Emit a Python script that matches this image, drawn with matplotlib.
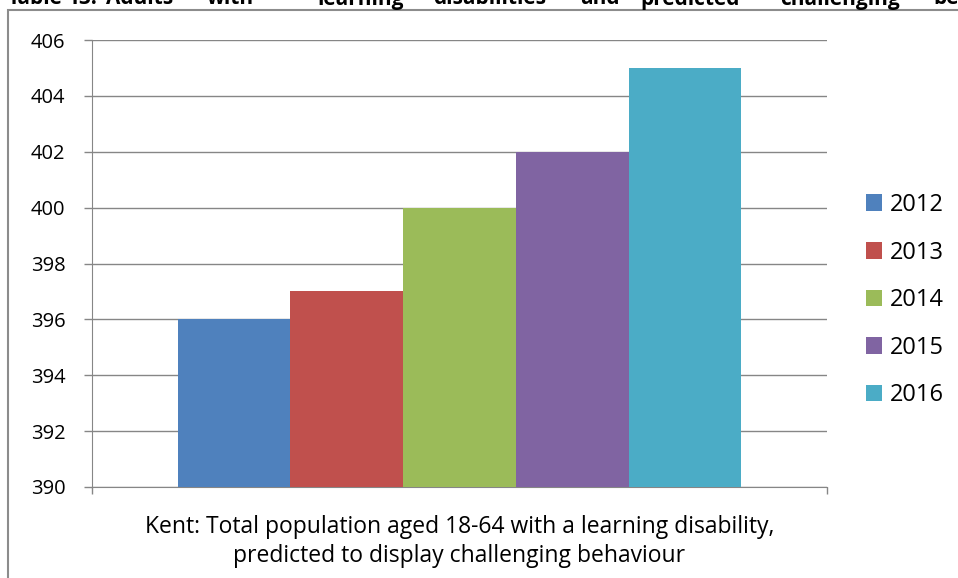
import matplotlib
matplotlib.use("Agg")
import matplotlib.pyplot as plt
from matplotlib.patches import Rectangle

years = ["2012", "2013", "2014", "2015", "2016"]
values = [396, 397, 400, 402, 405]
colors = ["#4F81BD", "#C0504D", "#9BBB59", "#8064A2", "#4BACC6"]
yticks = [390, 392, 394, 396, 398, 400, 402, 404, 406]
xlabel = "Kent: Total population aged 18-64 with a learning disability,\npredicted to display challenging behaviour"
title_words = ["Table", "13:", "Adults", "with", "learning", "disabilities",
               "and", "predicted", "challenging", "behaviour"]

plt.rcParams["font.family"] = ["Open Sans", "DejaVu Sans"]

W, H = 958, 578
fig = plt.figure(figsize=(W / 100, H / 100), dpi=100)

# outer frame of the chart area
fig.add_artist(Rectangle((8 / W, -0.1), 1.2, (H - 10) / H + 0.1,
                         transform=fig.transFigure, fill=False,
                         edgecolor="#8C8C8C", linewidth=1.5))

# justified bold caption running above the frame
word_x = [8, 68, 106, 207, 317, 433, 580, 640, 780, 933]
for w, x in zip(title_words, word_x):
    fig.text(x / W, 1 - 4.5 / H, w, fontsize=15, fontweight="bold",
             ha="left", va="baseline", color="black")

ax = fig.add_axes([92 / W, 1 - 487 / H, (827 - 92) / W, (487 - 40) / H])
bw = 112.7 / 735
start = 0.5 - 2.5 * bw
for i, (y, v, c) in enumerate(zip(years, values, colors)):
    ax.bar(start + (i + 0.5) * bw, v - 390, bottom=390, width=bw,
           color=c, label=y, zorder=3)

ax.set_xlim(0, 1)
ax.set_ylim(390, 406)
ax.set_yticks(yticks)
ax.set_yticklabels([str(t) for t in yticks], fontsize=14.5)
ax.yaxis.grid(True, color="#868686", linewidth=1, zorder=0)
ax.set_xticks([0, 1])
ax.set_xticklabels(["", ""])
ax.tick_params(axis="x", length=5, width=1, color="#868686", direction="out")
ax.tick_params(axis="y", length=6, width=1, color="#868686", direction="out",
               pad=13)
for s in ["top", "right"]:
    ax.spines[s].set_visible(False)
for s in ["left", "bottom"]:
    ax.spines[s].set_color("#868686")
ax.set_xlabel(xlabel, fontsize=16.5, labelpad=12, linespacing=1.25)

ax.legend(loc="center left", bbox_to_anchor=(1.04, 0.418), frameon=False,
          fontsize=17, handlelength=0.7, handleheight=0.7,
          handletextpad=0.3, labelspacing=1.0, borderaxespad=0)

fig.savefig("out.png", dpi=100)
